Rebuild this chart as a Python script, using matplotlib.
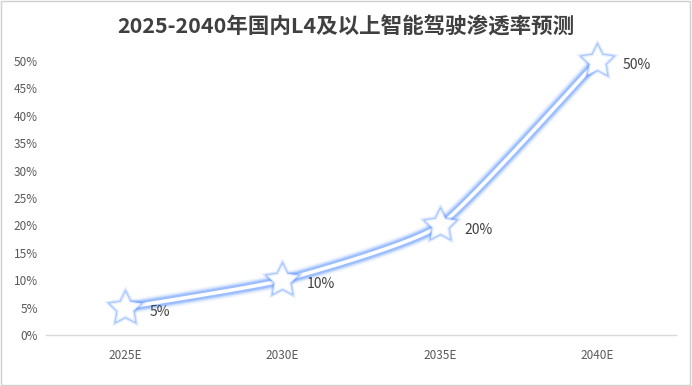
import numpy as np
import matplotlib
matplotlib.use("Agg")
import matplotlib.pyplot as plt
from matplotlib.patches import Rectangle
from matplotlib.path import Path

plt.rcParams['font.family'] = ['Noto Sans CJK SC', 'DejaVu Sans']

categories = ["2025E", "2030E", "2035E", "2040E"]
values = [5, 10, 20, 50]
yticks = [0, 5, 10, 15, 20, 25, 30, 35, 40, 45, 50]
title = "2025-2040年国内L4及以上智能驾驶渗透率预测"

fig = plt.figure(figsize=(6.92, 3.86), dpi=100)
ax = fig.add_axes([46/692, 1-335/386, (676-46)/692, (335-61)/386])

x = np.arange(len(categories))
y = np.array(values, dtype=float)

# fatter 5-point star marker
ang = np.pi/2 + np.arange(10) * np.pi / 5
rad = np.where(np.arange(10) % 2 == 0, 1.0, 0.5)
verts = np.column_stack([rad*np.cos(ang), rad*np.sin(ang)])
verts = np.vstack([verts, verts[:1]])
star = Path(verts, [Path.MOVETO] + [Path.LINETO]*9 + [Path.CLOSEPOLY])

def smooth(xp, yp, n=40, t=1/12):
    px, py = [], []
    N = len(xp)
    for i in range(N - 1):
        x0, y0 = xp[max(i-1, 0)], yp[max(i-1, 0)]
        x1, y1 = xp[i], yp[i]
        x2, y2 = xp[i+1], yp[i+1]
        x3, y3 = xp[min(i+2, N-1)], yp[min(i+2, N-1)]
        c1x, c1y = x1 + (x2 - x0) * t, y1 + (y2 - y0) * t
        c2x, c2y = x2 - (x3 - x1) * t, y2 - (y3 - y1) * t
        s = np.linspace(0, 1, n)
        bx = (1-s)**3*x1 + 3*(1-s)**2*s*c1x + 3*(1-s)*s**2*c2x + s**3*x2
        by = (1-s)**3*y1 + 3*(1-s)**2*s*c1y + 3*(1-s)*s**2*c2y + s**3*y2
        px.extend(bx); py.extend(by)
    return np.array(px), np.array(py)

sx, sy = smooth(x, y)
glow = '#5590ff'
for lw, a in [(11, 0.07), (9, 0.12), (7.5, 0.2), (6, 0.35)]:
    ax.plot(sx, sy, color=glow, lw=lw, alpha=a, solid_capstyle='round', zorder=2, clip_on=False)
ax.plot(sx, sy, color='white', lw=2.6, solid_capstyle='round', zorder=3, clip_on=False)

for ms, a in [(31, 0.08), (28, 0.14), (25, 0.28)]:
    ax.plot(x, y, linestyle='none', marker=star, ms=ms, color=glow, alpha=a, zorder=4, clip_on=False)
ax.plot(x, y, linestyle='none', marker=star, ms=22, markerfacecolor='white',
        markeredgecolor='#e6efff', markeredgewidth=1.0, zorder=5, clip_on=False)

for xi, yi in zip(x, y):
    ax.annotate(f"{int(yi)}%", (xi, yi), xytext=(18, -3), textcoords='offset points',
                fontsize=10, color='#404040', va='center', ha='left', zorder=6)

ax.set_xlim(-0.5, len(categories) - 0.5)
ax.set_ylim(0, 50)
ax.set_xticks(x)
ax.set_xticklabels(categories)
ax.set_yticks(yticks)
ax.set_yticklabels([f"{v}%" for v in yticks])
ax.tick_params(axis='both', length=0, labelsize=8.5, colors='#595959')
ax.tick_params(axis='x', pad=10)
ax.tick_params(axis='y', pad=6)
for s in ['top', 'right', 'left']:
    ax.spines[s].set_visible(False)
ax.spines['bottom'].set_color('#d9d9d9')
ax.spines['bottom'].set_linewidth(1)
ax.set_facecolor('none')

fig.text(0.5, 1-27/386, title, ha='center', va='center', fontsize=15.5,
         fontweight='bold', color='#404040')
fig.patches.append(Rectangle((0.002, 0.003), 0.995, 0.994, transform=fig.transFigure,
                             fill=False, edgecolor='#d0d0d0', lw=1))

fig.savefig('out.png', dpi=100)
